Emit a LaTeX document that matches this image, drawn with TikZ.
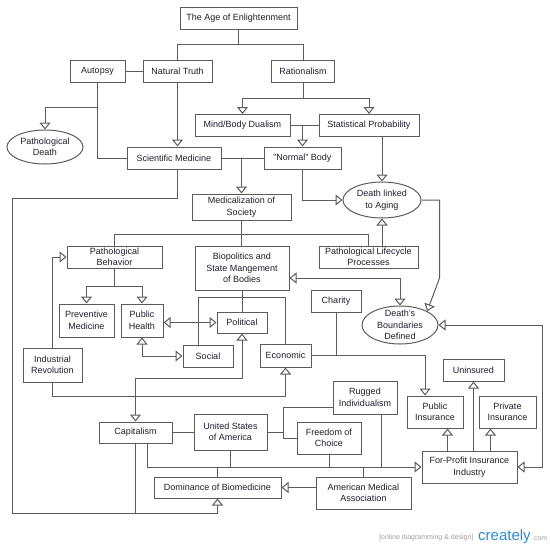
\documentclass[tikz,border=0pt]{standalone}
\usepackage{fontspec}
\setmainfont{Liberation Sans}
\usepackage{xcolor}
\definecolor{edgeGray}{HTML}{5C5C5C}
\definecolor{inkDark}{HTML}{1E1E2E}
\definecolor{createlyBlue}{HTML}{2B8ED3}
\usepackage{tikz}
\usetikzlibrary{arrows.meta,positioning,shapes.geometric,calc}

\begin{document}
\begin{tikzpicture}[x=1pt,y=-1pt,
 box/.style={draw=edgeGray,line width=1pt,fill=white,align=center,inner sep=1pt,
 font=\fontsize{9}{11.5}\selectfont,text=inkDark},
 tight/.style={font=\fontsize{9}{10.5}\selectfont,inner ysep=0pt},
 oval/.style={box,ellipse,inner sep=0pt},
 link/.style={draw=edgeGray,line width=1pt},
 arr/.style={link,-{Triangle[fill=white,length=7pt,width=11pt]}},
 arrBoth/.style={link,{Triangle[fill=white,length=7pt,width=11pt]}-{Triangle[fill=white,length=7pt,width=11pt]}},
 tagText/.style={font=\fontsize{7}{8}\selectfont,text=gray!75}]
 \path[use as bounding box,fill=white] (0,0) rectangle (550,550);

 % top of the map
 \node[box,minimum width=117pt,minimum height=22pt] (enlight) at (238.5,18) {The Age of Enlightenment};
 \node[box,minimum width=55pt,minimum height=22pt] (autopsy) at (97.5,71) {Autopsy};
 \node[box,minimum width=69pt,minimum height=22pt] (natTruth) at (177.5,71) {Natural Truth};
 \node[box,minimum width=63pt,minimum height=22pt] (rational) at (303,71) {Rationalism};
 \node[oval,minimum width=76pt,minimum height=34pt] (pathDeath) at (45,147) {Pathological\\Death};
 \node[box,minimum width=95pt,minimum height=22pt] (mindBody) at (242.5,125.5) {Mind/Body Dualism};
 \node[box,minimum width=100pt,minimum height=22pt] (statProb) at (369,125.5) {Statistical Probability};
 \node[box,minimum width=94pt,minimum height=22pt] (sciMed) at (174,158) {Scientific Medicine};
 \node[box,minimum width=77pt,minimum height=22pt] (normBody) at (302.5,158) {"Normal" Body};
 \node[box,minimum width=99pt,minimum height=26pt] (medSoc) at (241.5,207) {Medicalization of\\Society};
 \node[oval,minimum width=78pt,minimum height=36pt] (deathAging) at (382,200) {Death linked\\to Aging};

 % middle
 \node[box,tight,minimum width=95pt,minimum height=22pt] (pathBehav) at (114.5,257) {Pathological\\Behavior};
 \node[box,minimum width=94pt,minimum height=44pt] (bioPol) at (242,268) {Biopolitics and\\State Mangement\\of Bodies};
 \node[box,tight,minimum width=99pt,minimum height=22pt] (lifeProc) at (368.5,257) {Pathological Lifecycle\\Processes};
 \node[oval,inner ysep=-4pt,minimum width=76pt,minimum height=38pt] (deathBound) at (400,325) {Death's\\Boundaries\\Defined};
 \node[box,minimum width=50pt,minimum height=22pt] (charity) at (336,301) {Charity};
 \node[box,minimum width=55pt,minimum height=33pt] (prevMed) at (86.5,320.5) {Preventive\\Medicine};
 \node[box,minimum width=42pt,minimum height=33pt] (pubHealth) at (142,320.5) {Public\\Health};
 \node[box,minimum width=50pt,minimum height=21pt] (political) at (242,322.5) {Political};
 \node[box,minimum width=50pt,minimum height=22pt] (social) at (208,356) {Social};
 \node[box,minimum width=51pt,minimum height=23pt] (economic) at (285.5,355.5) {Economic};
 \node[box,minimum width=59pt,minimum height=34pt] (indRev) at (52.5,365) {Industrial\\Revolution};

 % insurance and bottom row
 \node[box,minimum width=61pt,minimum height=22pt] (unins) at (473.5,370) {Uninsured};
 \node[box,minimum width=64pt,minimum height=33pt] (rugged) at (365,397.5) {Rugged\\Individualism};
 \node[box,minimum width=56pt,minimum height=32pt] (pubIns) at (435,412) {Public\\Insurance};
 \node[box,minimum width=57pt,minimum height=32pt] (privIns) at (507.5,412) {Private\\Insurance};
 \node[box,minimum width=73pt,minimum height=21pt] (capital) at (135.5,432.5) {Capitalism};
 \node[box,minimum width=73pt,minimum height=36pt] (usa) at (230.5,432) {United States\\of America};
 \node[box,minimum width=64pt,minimum height=32pt] (freeChoice) at (329,438) {Freedom of\\Choice};
 \node[box,minimum width=95pt,minimum height=32pt] (forProfit) at (469.5,467) {For-Profit Insurance\\Industry};
 \node[box,minimum width=127pt,minimum height=21pt] (domBio) at (217.5,487.5) {Dominance of Biomedicine};
 \node[box,minimum width=95pt,minimum height=32pt] (amAssoc) at (363.5,493) {American Medical\\Association};
 \coordinate (railCorner) at (12,513);

 % connectors
 \draw[link] (enlight.south) -- ++(0,15) -| (natTruth.north);
 \draw[link] (enlight.south) -- ++(0,15) -| (rational.north);
 \draw[link] (autopsy.east) -- (autopsy.east -| natTruth.west);
 \draw[arr] (autopsy.south) -- ++(0,25) -| (pathDeath.north);
 \draw[link] (autopsy.south) |- (sciMed.west);
 \draw[arr] (natTruth.south) -- (natTruth.south |- sciMed.north);
 \draw[arr] (rational.south) -- ++(0,16) -| (mindBody.north);
 \draw[arr] (rational.south) -- ++(0,16) -| (statProb.north);
 \draw[link] (mindBody.east) -- (mindBody.east -| statProb.west);
 \draw[arr] (mindBody.east -| normBody.north) -- (normBody.north);
 \draw[arr] (deathAging.north |- statProb.south) -- (deathAging.north);
 \draw[link] (sciMed.east) -- (sciMed.east -| normBody.west);
 \draw[arr] (sciMed.east -| medSoc.north) -- (medSoc.north);
 \draw[arr] (normBody.south) |- (deathAging.west);
 \draw[arr] ([xshift=3pt]sciMed.south) -- ++(0,29) -| (railCorner) -| (domBio.south);
 \draw[link] (capital.south) -- (capital.south |- railCorner);

 \draw[link] (medSoc.south) -- ++(0,14) -| (pathBehav.north);
 \draw[link] (medSoc.south) -- ++(0,14) -| (lifeProc.north);
 \draw[link] (medSoc.south) -- (medSoc.south |- bioPol.north);
 \draw[arr] (lifeProc.north -| deathAging.south) -- (deathAging.south);
 \draw[arr] (deathAging.east) -- ++(18,0) -- ++(0,78) -- (deathBound.north east);
 \draw[arrBoth] ([yshift=-10pt]bioPol.east) -| (deathBound.north);

 \draw[arr] (pathBehav.south) -- ++(0,18) -| (prevMed.north);
 \draw[arr] (pathBehav.south) -- ++(0,18) -| (pubHealth.north);
 \draw[arr] (indRev.north) |- (pathBehav.west);
 \draw[arr] (indRev.south) -- ++(0,14) -| (economic.south);
 \draw[arrBoth] (political.west -| pubHealth.east) -- (political.west);
 \draw[arrBoth] (pubHealth.south) |- (social.west);
 \draw[link] (bioPol.south) -- (bioPol.south |- political.north);
 \draw[link] ([xshift=-10pt]social.north) -- ++(0,-47) -| (economic.north);
 \draw[arrBoth] (political.south) -- ++(0,45) -| (capital.north);
 \draw[arr] (economic.east) -| ([xshift=-10pt]pubIns.north);
 \draw[link] (charity.south) -- (charity.south |- economic.east);

 \draw[arr] (unins.south |- forProfit.north) -- (unins.south);
 \draw[arr] ([xshift=-22pt]forProfit.north) -- ([xshift=-22pt]forProfit.north |- pubIns.south);
 \draw[arr] ([xshift=21pt]forProfit.north) -- ([xshift=21pt]forProfit.north |- privIns.south);
 \draw[arrBoth] (forProfit.east) -- ++(25,0) |- (deathBound.east);

 \draw[link] (capital.east) -- (capital.east -| usa.west);
 \draw[link] (usa.east) -- ++(16,0) |- ([yshift=-10pt]rugged.west);
 \draw[link] (usa.east) -- ++(16,0) |- (freeChoice.west);
 \draw[arr] ([xshift=12pt]capital.south) |- (forProfit.west);
 \draw[link] (usa.south) -- (usa.south |- forProfit.west);
 \draw[link] (domBio.north) -- (domBio.north |- forProfit.west);
 \draw[link] (freeChoice.south) -- (freeChoice.south |- forProfit.west);
 \draw[link] ([xshift=16pt]rugged.south) -- ([xshift=16pt]rugged.south |- forProfit.west);
 \draw[link] (amAssoc.north) -- (amAssoc.north |- forProfit.west);
 \draw[arr] (domBio.east -| amAssoc.west) -- (domBio.east);

 % watermark
 \node[tagText,anchor=east] (wmTag) at (477,538) {[online diagramming \& design]};
 \node[font=\fontsize{15}{15}\selectfont,text=createlyBlue,anchor=west,inner sep=1pt] (wmLogo) at (477,537) {creately};
 \node[tagText,anchor=base west,inner sep=0pt] (wmCom) at (wmLogo.base east) {.com};
\end{tikzpicture}
\end{document}
